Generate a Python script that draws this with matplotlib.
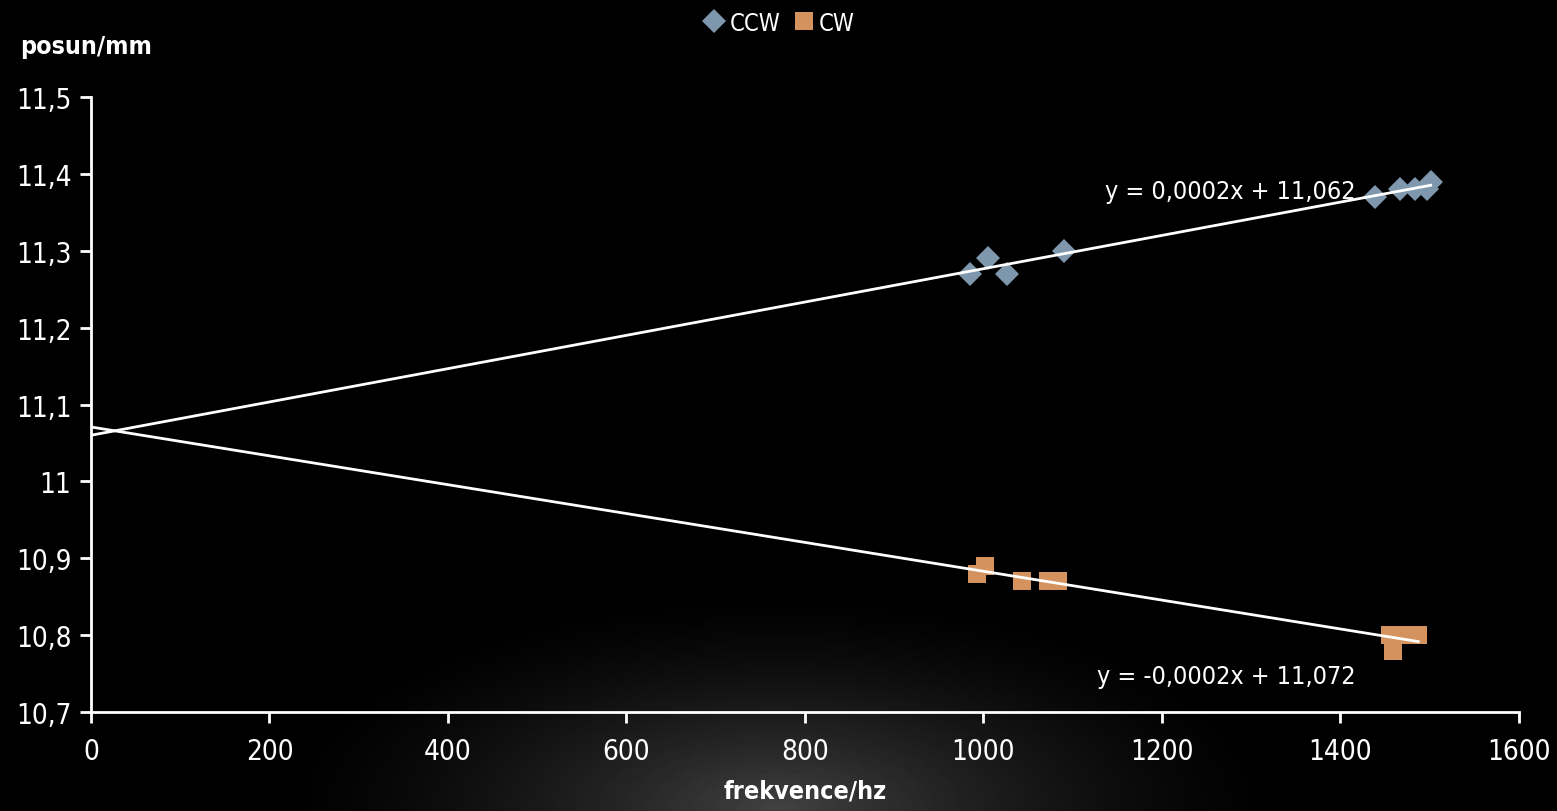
import numpy as np
import matplotlib
matplotlib.use('Agg')
import matplotlib.pyplot as plt

plt.rcParams['font.family'] = ['DejaVu Sans']
plt.rcParams['font.stretch'] = 'condensed'

# CCW measurements
ccw_freq = [985, 1005, 1026, 1090, 1439, 1467, 1483, 1497, 1501]
ccw_shift = [11.27, 11.29, 11.27, 11.30, 11.37, 11.38, 11.38, 11.38, 11.39]

# CW measurements
cw_freq = [993, 1002, 1043, 1072, 1083, 1455, 1459, 1472, 1487]
cw_shift = [10.88, 10.89, 10.87, 10.87, 10.87, 10.80, 10.78, 10.80, 10.80]

ccw_eq = 'y = 0,0002x + 11,062'
cw_eq = 'y = -0,0002x + 11,072'

yticks = [10.7, 10.8, 10.9, 11.0, 11.1, 11.2, 11.3, 11.4, 11.5]
ytick_labels = ['10,7', '10,8', '10,9', '11', '11,1', '11,2', '11,3', '11,4', '11,5']
xticks = [0, 200, 400, 600, 800, 1000, 1200, 1400, 1600]

fig = plt.figure(figsize=(15.57, 8.12), dpi=100)
fig.patch.set_facecolor('black')

# dark background with a soft glow at the bottom centre
bg = fig.add_axes([0, 0, 1, 1], zorder=-1)
gx, gy = np.meshgrid(np.linspace(0, 1, 400), np.linspace(0, 1, 220))
r = np.sqrt(((gx - 0.5) / 0.34) ** 2 + (gy / 0.28) ** 2)
glow = 0.26 * np.clip(1 - r, 0, 1) ** 1.6
bg.imshow(glow, cmap='gray', vmin=0, vmax=1, origin='lower',
          extent=[0, 1, 0, 1], aspect='auto')
bg.axis('off')

ax = fig.add_axes([0.0584, 0.1219, 0.9172, 0.7574])
ax.set_facecolor('none')

ax.plot(ccw_freq, ccw_shift, 'D', color='#7f97ad', markersize=12,
        markeredgewidth=0, label='CCW', zorder=3)
ax.plot(cw_freq, cw_shift, 's', color='#d4925f', markersize=13,
        markeredgewidth=0, label='CW', zorder=3)

# linear trendlines
for fx, fy in [(ccw_freq, ccw_shift), (cw_freq, cw_shift)]:
    k, q = np.polyfit(fx, fy, 1)
    xs = np.array([0, max(fx)])
    ax.plot(xs, k * xs + q, color='white', lw=2, zorder=4)

ax.text(1136, 11.378, ccw_eq, color='white', fontsize=18, va='center')
ax.text(1127, 10.747, cw_eq, color='white', fontsize=18, va='center')

ax.set_xlim(0, 1600)
ax.set_ylim(10.7, 11.5)
ax.set_xticks(xticks)
ax.set_yticks(yticks)
ax.set_yticklabels(ytick_labels)
ax.tick_params(colors='white', labelcolor='white', labelsize=20,
               width=2, length=8, direction='out')
ax.tick_params(axis='x', pad=10)
ax.tick_params(axis='y', pad=6)
for side in ['top', 'right']:
    ax.spines[side].set_visible(False)
for side in ['left', 'bottom']:
    ax.spines[side].set_color('white')
    ax.spines[side].set_linewidth(2)

ax.set_xlabel('frekvence/hz', color='white', fontsize=18, fontweight='bold',
              labelpad=10)
fig.text(0.013, 0.942, 'posun/mm', color='white', fontsize=18,
         fontweight='bold', va='center')

leg = fig.legend(loc='center', bbox_to_anchor=(0.5, 0.971), ncol=2,
                 frameon=False, fontsize=17, handletextpad=0.15,
                 columnspacing=0.5, handlelength=1.0, markerscale=1.05)
for t in leg.get_texts():
    t.set_color('white')

fig.savefig('out.png', dpi=100, facecolor='black')
